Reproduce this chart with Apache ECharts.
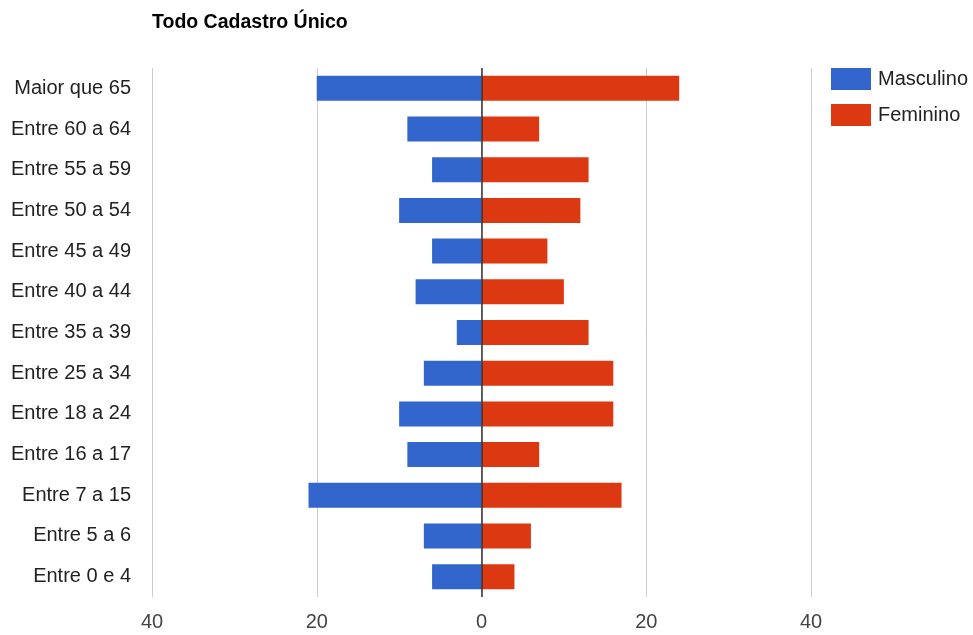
<!DOCTYPE html>
<html>
<head>
<meta charset="utf-8">
<script src="https://cdn.jsdelivr.net/npm/echarts@6/dist/echarts.min.js"></script>
<style>html,body{margin:0;padding:0;background:#fff}#c{width:973px;height:635px}</style>
</head>
<body>
<div id="c"></div>
<script>
const categories = ['Maior que 65','Entre 60 a 64','Entre 55 a 59','Entre 50 a 54','Entre 45 a 49','Entre 40 a 44','Entre 35 a 39','Entre 25 a 34','Entre 18 a 24','Entre 16 a 17','Entre 7 a 15','Entre 5 a 6','Entre 0 e 4'];
const masculino = [20, 9, 6, 10, 6, 8, 3, 7, 10, 9, 21, 7, 6];
const feminino = [24, 7, 13, 12, 8, 10, 13, 16, 16, 7, 17, 6, 4];
const xTicks = [-40, -20, 0, 20, 40];

const font = '"Liberation Sans", Arial, sans-serif';
const chart = echarts.init(document.getElementById('c'), null, {renderer: 'canvas'});
chart.setOption({
  animation: false,
  textStyle: {fontFamily: font},
  title: {
    text: 'Todo Cadastro Único',
    left: 152, top: 13, padding: 0,
    textStyle: {fontFamily: font, fontSize: 19.5, fontWeight: 'bold', color: '#000'}
  },
  legend: {
    orient: 'vertical',
    left: 831, top: 68, padding: 0,
    itemWidth: 40, itemHeight: 22, itemGap: 14,
    icon: 'rect',
    textStyle: {fontFamily: font, fontSize: 20, color: '#222', padding: [0,0,0,2]},
    data: ['Masculino', 'Feminino']
  },
  grid: {left: 152, right: 162, top: 68, bottom: 38, containLabel: false},
  xAxis: {
    type: 'value',
    min: xTicks[0], max: xTicks[xTicks.length - 1], interval: 20,
    axisLine: {show: false},
    axisTick: {show: false},
    splitLine: {show: true, lineStyle: {color: '#cccccc', width: 1}},
    axisLabel: {
      margin: 15,
      fontFamily: font, fontSize: 20, color: '#444',
      formatter: v => String(Math.abs(v))
    }
  },
  yAxis: {
    type: 'category',
    data: categories,
    inverse: true,
    axisLine: {show: false},
    axisTick: {show: false},
    splitLine: {show: false},
    axisLabel: {margin: 21, fontFamily: font, fontSize: 20, color: '#222'}
  },
  series: [
    {
      name: 'Masculino', type: 'bar', stack: 'total',
      data: masculino.map(v => -v),
      barWidth: 25,
      itemStyle: {color: '#3366cc'},
      markLine: {
        silent: true, symbol: 'none', label: {show: false},
        lineStyle: {color: '#333333', width: 1.5, type: 'solid'},
        data: [{xAxis: 0}]
      }
    },
    {
      name: 'Feminino', type: 'bar', stack: 'total',
      data: feminino,
      barWidth: 25,
      itemStyle: {color: '#dc3912'}
    }
  ]
});
</script>
</body>
</html>
